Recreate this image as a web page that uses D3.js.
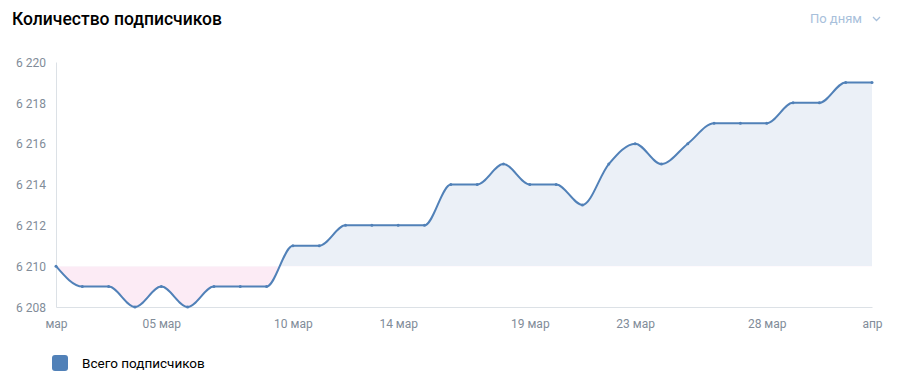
<!DOCTYPE html>
<html>
<head>
<meta charset="utf-8">
<script src="https://cdn.jsdelivr.net/npm/d3@7"></script>
<style>
  body { margin: 0; background: #fff; font-family: Roboto, "Open Sans", sans-serif; }
  svg { display: block; }
</style>
</head>
<body>
<svg></svg>
<script>
const size = {w: 897, h: 390};
const margin = {t: 62, r: 25, b: 83, l: 56};

// daily subscribers, 1 Mar .. 1 Apr
const days = ['2021-03-01','2021-03-02','2021-03-03','2021-03-04','2021-03-05','2021-03-06','2021-03-07','2021-03-08',
  '2021-03-09','2021-03-10','2021-03-11','2021-03-12','2021-03-13','2021-03-14','2021-03-15','2021-03-16',
  '2021-03-17','2021-03-18','2021-03-19','2021-03-20','2021-03-21','2021-03-22','2021-03-23','2021-03-24',
  '2021-03-25','2021-03-26','2021-03-27','2021-03-28','2021-03-29','2021-03-30','2021-03-31','2021-04-01'];
const subscribers = [6210, 6209, 6209, 6208, 6209, 6208, 6209, 6209,
  6209, 6211, 6211, 6212, 6212, 6212, 6212, 6214,
  6214, 6215, 6214, 6214, 6213, 6215, 6216, 6215,
  6216, 6217, 6217, 6217, 6218, 6218, 6219, 6219];
const baseline = 6210;
const yTicks = [6208, 6210, 6212, 6214, 6216, 6218, 6220];
const xTickDates = ['2021-03-01','2021-03-05','2021-03-10','2021-03-14','2021-03-19','2021-03-23','2021-03-28','2021-04-01'];
const xTickLabels = ['мар','05 мар','10 мар','14 мар','19 мар','23 мар','28 мар','апр'];

const parse = d3.timeParse('%Y-%m-%d');
const data = days.map((d, i) => ({date: parse(d), value: subscribers[i]}));

const svg = d3.select('svg')
    .attr('width', size.w)
    .attr('height', size.h);

const x = d3.scaleTime()
    .domain(d3.extent(data, d => d.date))
    .range([margin.l, size.w - margin.r]);

const y = d3.scaleLinear()
    .domain([6208, 6220])
    .range([size.h - margin.b, margin.t]);

// title and period switch
svg.append('text')
    .attr('x', 12).attr('y', 25)
    .attr('font-size', 17.5).attr('font-weight', 500)
    .attr('fill', '#000')
    .text('Количество подписчиков');

svg.append('text')
    .attr('x', 862).attr('y', 23)
    .attr('text-anchor', 'end')
    .attr('font-size', 13)
    .attr('fill', '#a8c0db')
    .text('По дням');

svg.append('path')
    .attr('d', 'M873,17 L876.5,20.5 L880,17')
    .attr('fill', 'none')
    .attr('stroke', '#a8c0db')
    .attr('stroke-width', 1.3);

// clip regions above / below the baseline
const defs = svg.append('defs');
defs.append('clipPath').attr('id', 'above')
  .append('rect')
    .attr('x', 0).attr('y', 0)
    .attr('width', size.w).attr('height', y(baseline));
defs.append('clipPath').attr('id', 'below')
  .append('rect')
    .attr('x', 0).attr('y', y(baseline))
    .attr('width', size.w).attr('height', size.h - y(baseline));

const area = d3.area()
    .curve(d3.curveMonotoneX)
    .x(d => x(d.date))
    .y0(y(baseline))
    .y1(d => y(d.value));

svg.append('path')
    .datum(data)
    .attr('clip-path', 'url(#above)')
    .attr('fill', '#ebf0f7')
    .attr('d', area);

svg.append('path')
    .datum(data)
    .attr('clip-path', 'url(#below)')
    .attr('fill', '#fcebf5')
    .attr('d', area);

// axes
const yAxis = svg.append('g')
    .attr('transform', `translate(${margin.l},0)`)
    .call(d3.axisLeft(y).tickValues(yTicks).tickSize(0).tickPadding(10)
        .tickFormat(d => d3.format(',')(d).replace(',', ' ')));

const xAxis = svg.append('g')
    .attr('transform', `translate(0,${size.h - margin.b})`)
    .call(d3.axisBottom(x).tickValues(xTickDates.map(parse)).tickSize(0).tickPadding(12)
        .tickFormat((d, i) => xTickLabels[i]));

[yAxis, xAxis].forEach(g => {
    g.select('.domain').attr('stroke', '#dce1e6');
    g.selectAll('text')
        .attr('fill', '#818c99')
        .attr('font-size', 12)
        .attr('font-family', 'Roboto, sans-serif');
});
yAxis.selectAll('text').attr('dy', '0.35em');

// line + points
const line = d3.line()
    .curve(d3.curveMonotoneX)
    .x(d => x(d.date))
    .y(d => y(d.value));

svg.append('path')
    .datum(data)
    .attr('fill', 'none')
    .attr('stroke', '#5181b8')
    .attr('stroke-width', 2)
    .attr('d', line);

svg.selectAll('circle.pt')
    .data(data)
    .enter()
    .append('circle')
    .classed('pt', true)
    .attr('cx', d => x(d.date))
    .attr('cy', d => y(d.value))
    .attr('r', 1.5)
    .attr('fill', '#5181b8');

// legend
svg.append('rect')
    .attr('x', 52).attr('y', 355)
    .attr('width', 16).attr('height', 16)
    .attr('rx', 3)
    .attr('fill', '#5181b8');

svg.append('text')
    .attr('x', 82).attr('y', 368)
    .attr('font-size', 13.5)
    .attr('fill', '#000')
    .text('Всего подписчиков');
</script>
</body>
</html>
